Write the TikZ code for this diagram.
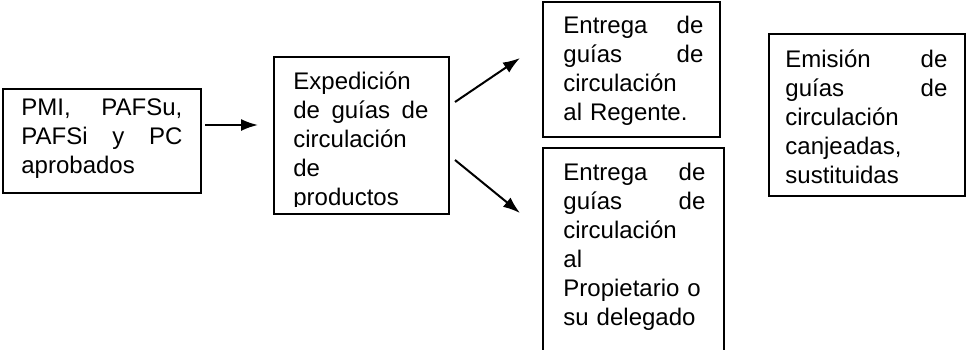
\documentclass[tikz,border=0pt]{standalone}
\usepackage{fontspec}
\setmainfont{Liberation Sans}
\usetikzlibrary{arrows.meta}

\tikzset{
  caja/.style={draw=black, line width=1pt, inner sep=0pt, anchor=north west},
  texto/.style={inner sep=0pt, anchor=base west, text width=#1, align=left,
                font=\fontsize{12}{14.5}\selectfont},
  flecha/.style={-{Latex[length=8.5pt,width=6pt]}, line width=1pt}
}

\begin{document}
\begin{tikzpicture}[x=0.5pt,y=-0.5pt]
		\useasboundingbox (0,0) rectangle (968,349);

		% the boxes
		\node[caja, minimum width=99pt, minimum height=52pt] (pmi) at (2,88) {};
		\node[caja, minimum width=87.5pt, minimum height=78.5pt] (exp) at (273,56) {};
		\node[caja, minimum width=88.5pt, minimum height=67.5pt] (reg) at (542,1) {};
		\node[caja, minimum width=90.5pt, minimum height=106.5pt] (prop) at (542,147) {};
		\node[caja, minimum width=98pt, minimum height=81pt] (emi) at (768,33) {};

		% texts of the boxes
		\node[texto=80.5pt] (pmi-txt) at (21,115) {PMI,\hfill PAFSu,\\PAFSi\hfill y\hfill PC\\aprobados};
		\begin{scope}
			\clip (273,56) rectangle (448,206);
			\node[texto=67.5pt] (exp-txt) at (293,89) {Expedición\\de\hfill guías\hfill de\\circulación\\de\\productos};
		\end{scope}
		\node[texto=70pt] (reg-txt) at (563,33) {Entrega\hfill de\\guías\hfill de\\circulación\\al Regente.};
		\node[texto=71pt] (prop-txt) at (563,180) {Entrega\hfill de\\guías\hfill de\\circulación\\al\\Propietario o\\su delegado};
		\node[texto=81pt] (emi-txt) at (785,67) {Emisión\hfill de\\guías\hfill de\\circulación\\canjeadas,\\sustituidas};

		% arrows
		\draw[flecha] ([xshift=1.5pt,yshift=8pt]pmi.east) -- ([xshift=-7.5pt,yshift=5.25pt]exp.west);
		\draw[flecha] ([xshift=2.5pt,yshift=16.75pt]exp.east) -- ([xshift=-11pt,yshift=5.75pt]reg.west);
		\draw[flecha] ([xshift=2.5pt,yshift=-12.25pt]exp.east) -- ([xshift=-11pt,yshift=-33pt]prop.north west);
	\end{tikzpicture}
\end{document}
